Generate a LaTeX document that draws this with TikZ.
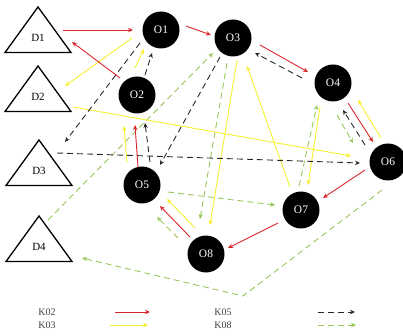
\documentclass[tikz,border=0pt]{standalone}
\usepackage{fontspec}
\setmainfont{Liberation Serif}
\usetikzlibrary{arrows.meta,calc}
\definecolor{kred}{RGB}{220,38,45}
\definecolor{kyel}{RGB}{245,240,50}
\definecolor{kblk}{RGB}{40,40,40}
\definecolor{kgrn}{RGB}{150,200,90}
\begin{document}
\begin{tikzpicture}[x=1pt,y=-1pt,
  obj/.style={circle,fill=black,minimum size=37pt,inner sep=0pt,text=white,font=\fontsize{11.5}{12}\selectfont},
  dlab/.style={font=\fontsize{11}{12}\selectfont,inner sep=0pt},
  leg/.style={font=\fontsize{10}{11}\selectfont,inner sep=0pt,text=black!75},
  tri/.style={line width=1.3pt,line join=miter},
  arr/.style={-{Stealth[length=5pt,width=4.5pt]},line width=0.9pt},
  k02/.style={arr,draw=kred},
  k03/.style={arr,draw=kyel},
  k05/.style={arr,draw=kblk,dash pattern=on 6pt off 4pt},
  k08/.style={arr,draw=kgrn,dash pattern=on 6pt off 4pt}]
\useasboundingbox (0,0) rectangle (403,336);

% triangles (D nodes)
\node[dlab] (D1) at (38,38) {D1};
\node[dlab] (D2) at (38,97) {D2};
\node[dlab] (D3) at (39,171) {D3};
\node[dlab] (D4) at (39,247) {D4};
\foreach \n in {D1,D2,D3,D4}{
  \draw[tri] ($(\n)+(-33,14.5)$) -- ($(\n)+(33,14.5)$) -- ($(\n)+(0,-31)$) -- cycle;
}

% circles (O nodes)
\node[obj] (O1) at (161,30) {O1};
\node[obj] (O2) at (137,95) {O2};
\node[obj] (O3) at (233,38) {O3};
\node[obj] (O4) at (333,83) {O4};
\node[obj] (O5) at (142,185) {O5};
\node[obj] (O6) at (388,162) {O6};
\node[obj] (O7) at (301,210) {O7};
\node[obj] (O8) at (206,254) {O8};

% green dashed (K08)
\draw[k08] ($(D4)+(9,-27)$) -- ($(O3)+(-20,15)$);
\draw[k08] ($(O3)+(-6,25)$) -- ($(O8)+(-6,-35)$);
\draw[k08] ($(O5)+(26,7)$) -- ($(O7)+(-26,-5)$);
\draw[k08] ($(O8)+(-28,-16)$) -- ($(O5)+(15,32)$);
\draw[k08] ($(O7)+(-2,-24)$) -- ($(O4)+(-16,22)$);
\draw[k08] ($(O4)+(4,32)$) -- ($(O6)+(-35,-19)$);
\coordinate (G7c) at (243,296);
\draw[k08] ($(O6)+(-6,28)$) -- (G7c) -- ($(D4)+(43,11)$);

% yellow (K03)
\draw[k03] ($(O1)+(-29,8)$) -- ($(D2)+(27,-11)$);
\draw[k03] ($(O2)+(-2,-27)$) -- ($(O1)+(-17,19)$);
\draw[k03] ($(D2)+(35,10)$) -- ($(O6)+(-37,-6)$);
\draw[k03] ($(O5)+(-15,-22)$) -- ($(O2)+(-13,31)$);
\draw[k03] ($(O8)+(-11,-26)$) -- ($(O5)+(25,14)$);
\draw[k03] ($(O3)+(4,22)$) -- ($(O8)+(4,-29)$);
\draw[k03] ($(O7)+(-11,-23)$) -- ($(O3)+(14,28)$);
\draw[k03] ($(O4)+(-13,24)$) -- ($(O7)+(7,-25)$);
\draw[k03] ($(O6)+(-7,-24)$) -- ($(O4)+(25,17)$);

% black dashed (K05)
\draw[k05] ($(O1)+(-21,13)$) -- ($(D3)+(26,-29)$);
\draw[k05] ($(O2)+(8,-20)$) -- ($(O1)+(-9,23)$);
\draw[k05] ($(O5)+(8,-23)$) -- ($(O2)+(8,28)$);
\draw[k05] ($(O3)+(-13,19)$) -- ($(O5)+(18,-20)$);
\draw[k05] ($(D3)+(18,-18)$) -- ($(O6)+(-28,1)$);
\draw[k05] ($(O4)+(-31,-5)$) -- ($(O3)+(22,15)$);
\draw[k05] ($(O6)+(-23,-17)$) -- ($(O4)+(10,27)$);

% red (K02)
\draw[k02] ($(D1)+(25,-8)$) -- ($(O1)+(-28,0)$);
\draw[k02] ($(O2)+(-17,-17)$) -- ($(D1)+(34,4)$);
\draw[k02] ($(O1)+(25,-4)$) -- ($(O3)+(-22,-3)$);
\draw[k02] ($(O3)+(27,7)$) -- ($(O4)+(-25,-11)$);
\draw[k02] ($(O4)+(15,20)$) -- ($(O6)+(-15,-20)$);
\draw[k02] ($(O6)+(-23,8)$) -- ($(O7)+(22,-12)$);
\draw[k02] ($(O7)+(-23,13)$) -- ($(O8)+(22,-6)$);
\draw[k02] ($(O8)+(-16,-17)$) -- ($(O5)+(18,21)$);
\draw[k02] ($(O5)+(-4,-18)$) -- ($(O2)+(-2,30)$);

% legend
\node[leg] (L1) at (47,312) {K02};
\node[leg] (L2) at (47,325) {K03};
\node[leg] (L3) at (223,312) {K05};
\node[leg] (L4) at (223,325) {K08};
\coordinate (a1) at (115,312); \coordinate (b1) at (150,312);
\coordinate (a2) at (110,325); \coordinate (b2) at (148,325);
\coordinate (a3) at (318,312); \coordinate (b3) at (355,312);
\coordinate (a4) at (318,325); \coordinate (b4) at (356,325);
\draw[k02] (a1) -- (b1);
\draw[k03] (a2) -- (b2);
\draw[k05] (a3) -- (b3);
\draw[k08] (a4) -- (b4);
\end{tikzpicture}
\end{document}
